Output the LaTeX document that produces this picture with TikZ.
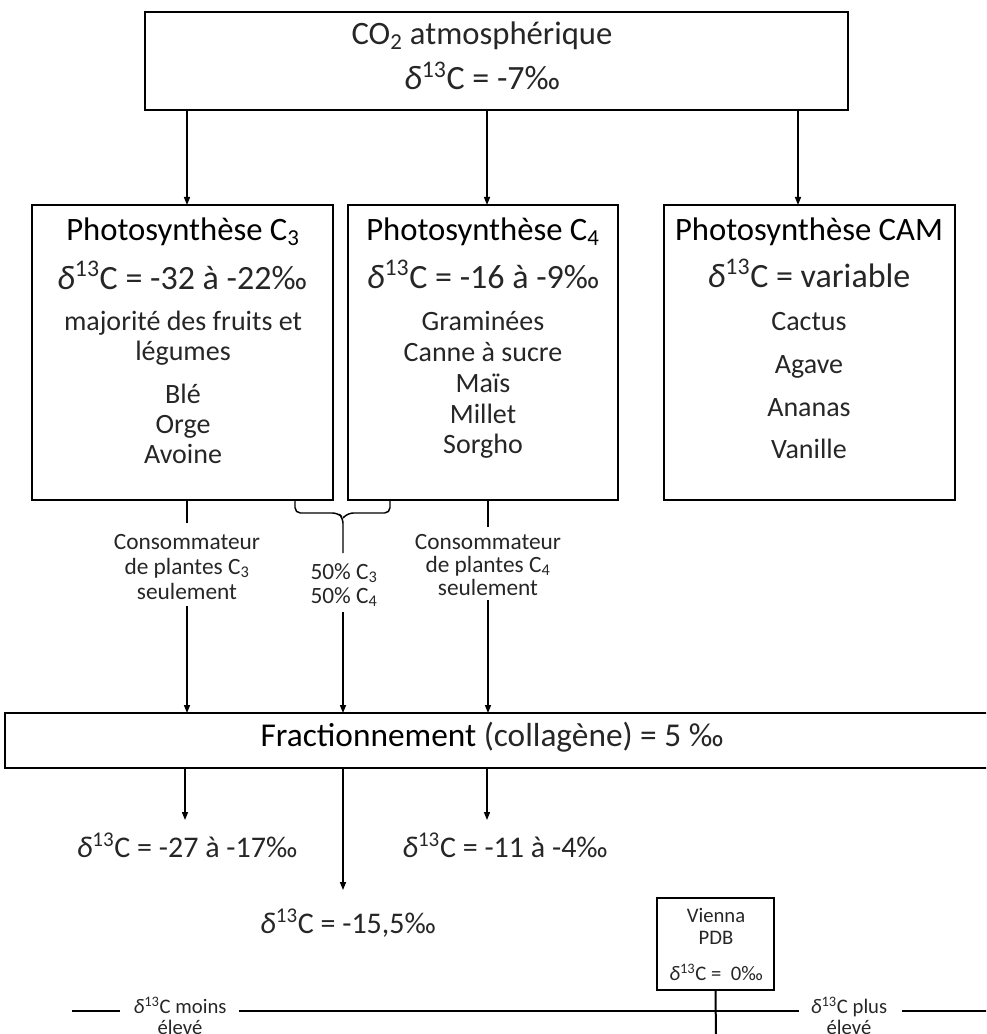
\documentclass[tikz,border=0pt]{standalone}
\usepackage{fontspec}
\setmainfont{Carlito}
\usetikzlibrary{arrows.meta}
\newdimen\px \px=0.75pt
\newcommand{\dC}{{\itshape δ}\textsuperscript{13}C}
\tikzset{
  frame/.style={draw, line width=1.5pt, inner sep=0pt, outer sep=0pt},
  conn/.style={line width=1.1pt},
  arr/.style={conn, -{Triangle[length=6pt,width=4.5pt]}},
  txt/.style={inner sep=0pt, anchor=base},
  ttl/.style={txt, font=\fontsize{24.5}{29}\selectfont},
  dl/.style={txt, font=\fontsize{25.5}{30}\selectfont, text=black!85},
  body/.style={txt, font=\fontsize{21}{25}\selectfont, text=black!85},
  small/.style={txt, font=\fontsize{17.5}{21}\selectfont, text=black!85},
  res/.style={txt, font=\fontsize{22.5}{27}\selectfont, text=black!85},
  tiny/.style={txt, font=\fontsize{15.5}{18}\selectfont, text=black!85},
}
\begin{document}
\begin{tikzpicture}[x=0.75pt,y=-0.75pt]
\useasboundingbox (0,0) rectangle (986,1034);
\clip (0,0) rectangle (986,1034);
% column coordinates
\coordinate (xa) at (187,0);
\coordinate (xb) at (343,0);
\coordinate (xc) at (487,0);
\coordinate (xd) at (798,0);
% boxes
\node[frame, minimum width=703\px, minimum height=98\px] (co2) at (496.5,61) {};
\node[frame, minimum width=301\px, minimum height=295\px] (c3) at (182.5,352.5) {};
\node[frame, minimum width=270\px, minimum height=295\px] (c4) at (483,352.5) {};
\node[frame, minimum width=291\px, minimum height=295\px] (cam) at (809.5,352.5) {};
\node[frame, minimum width=990\px, minimum height=55\px] (frac) at (500,740.5) {};
\node[frame, minimum width=117\px, minimum height=92\px] (vpdb) at (715.5,944) {};
% CO2 text
\node[ttl, text=black!85] (co2a) at (482,45) {CO\textsubscript{2} atmosphérique};
\node[dl] (co2b) at (482,90) {\dC{} = -7‰};
% C3
\node[ttl] (c3a) at (183,241) {Photosynthèse C\textsubscript{3}};
\node[dl] (c3b) at (182,289) {\dC{} = -32 à -22‰};
\node[body] (c3c) at (183,330) {majorité des fruits et};
\node[body] (c3d) at (183,360) {légumes};
\node[body] (c3e) at (183,403) {Blé};
\node[body] (c3f) at (183,433) {Orge};
\node[body] (c3g) at (183,463) {Avoine};
% C4
\node[ttl] (c4a) at (483,241) {Photosynthèse C\textsubscript{4}};
\node[dl] (c4b) at (483,288) {\dC{} = -16 à -9‰};
\node[body] (c4c) at (483,330) {Graminées};
\node[body] (c4d) at (483,361) {Canne à sucre};
\node[body] (c4e) at (483,392) {Maïs};
\node[body] (c4f) at (483,423) {Millet};
\node[body] (c4g) at (483,453) {Sorgho};
% CAM
\node[ttl] (cama) at (809,240) {Photosynthèse CAM};
\node[dl] (camb) at (809,287) {\dC{} = variable};
\node[body] (camc) at (809,330) {Cactus};
\node[body] (camd) at (809,373) {Agave};
\node[body] (came) at (809,416) {Ananas};
\node[body] (camf) at (809,458) {Vanille};
% arrows from CO2
\draw[arr] (xa |- co2.south) -- (xa |- c3.north);
\draw[arr] (xc |- co2.south) -- (xc |- c4.north);
\draw[arr] (xd |- co2.south) -- (xd |- cam.north);
% consumer labels
\node[small] (k3a) at (187,549) {Consommateur};
\node[small] (k3b) at (187,574) {de plantes C\textsubscript{3}};
\node[small] (k3c) at (187,599) {seulement};
\node[small] (kmA) at (344,579) {50\% C\textsubscript{3}};
\node[small] (kmB) at (344,603) {50\% C\textsubscript{4}};
\node[small] (k4a) at (488,549) {Consommateur};
\node[small] (k4b) at (488,572) {de plantes C\textsubscript{4}};
\node[small] (k4c) at (488,595) {seulement};
% connectors to fractionnement
\coordinate (a1) at (187,523);
\coordinate (a2) at (187,606);
\draw[conn] (xa |- c3.south) -- (a1);
\draw[arr] (a2) -- (a2 |- frac.north);
\coordinate (c1) at (488,527);
\coordinate (c2) at (488,600);
\draw[conn] (c1 |- c4.south) -- (c1);
\draw[arr] (c2) -- (c2 |- frac.north);
% bracket
\coordinate (bl) at (295,500);
\coordinate (br) at (390,500);
\coordinate (bm) at (343,553);
\coordinate (b2) at (343,612);
\draw[conn, rounded corners=4pt] (bl) -- (295,513) -- (338,513) -- (343,518) -- (bm);
\draw[conn, rounded corners=4pt] (br) -- (390,513) -- (348,513) -- (343,518);
\draw[arr] (b2) -- (b2 |- frac.north);
% fractionnement text
\node[txt, font=\fontsize{25}{30}\selectfont] (fr) at (492,746) {Fractionnement \textcolor{black!85}{(collagène) = 5 ‰}};
% results
\node[res] (r1) at (187,857) {\dC{} = -27 à -17‰};
\node[res] (r2) at (505,857) {\dC{} = -11 à -4‰};
\node[res] (r3) at (348,933) {\dC{} = -15,5‰};
\coordinate (e1) at (185,820);
\coordinate (e2) at (343,890);
\coordinate (e3) at (487,820);
\draw[arr] (e1 |- frac.south) -- (e1);
\draw[arr] (e2 |- frac.south) -- (e2);
\draw[arr] (e3 |- frac.south) -- (e3);
% Vienna PDB
\node[tiny] (v1) at (716,922) {Vienna};
\node[tiny] (v2) at (716,944) {PDB};
\node[tiny] (v3) at (716,980) {\dC{} =~ 0‰};
% scale
\coordinate (s0) at (72,1011);
\coordinate (s1) at (120,1011);
\coordinate (s2) at (239,1011);
\coordinate (s3) at (799,1011);
\coordinate (s4) at (902,1011);
\coordinate (s5) at (990,1011);
\coordinate (vb) at (716,1040);
\draw[line width=2.2pt] (s0) -- (s1);
\draw[line width=2.2pt] (s2) -- (s3);
\draw[line width=2.2pt] (s4) -- (s5);
\draw[line width=1.5pt] (vpdb.south) -- (vb);
\node[tiny] (m1) at (180,1013) {\dC{} moins};
\node[tiny] (m2) at (180,1034) {élevé};
\node[tiny] (p1) at (849,1013) {\dC{} plus};
\node[tiny] (p2) at (849,1034) {élevé};
\end{tikzpicture}
\end{document}
